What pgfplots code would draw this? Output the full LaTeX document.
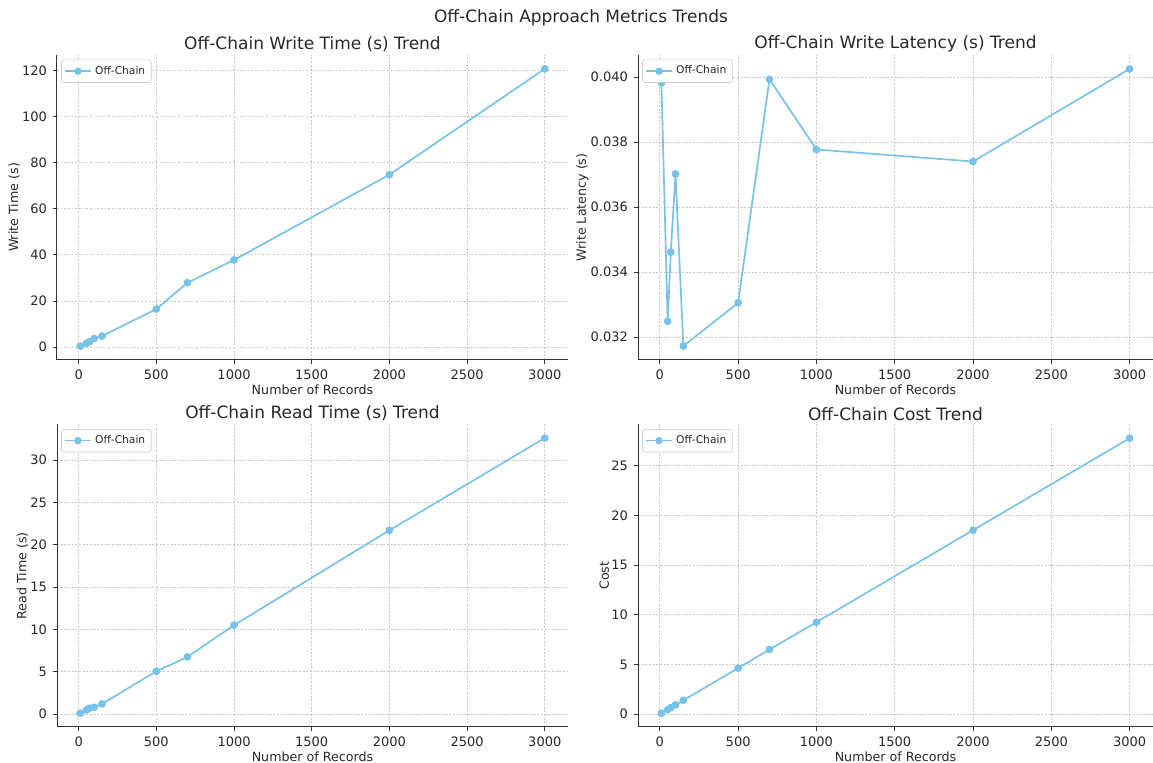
\documentclass[border=0pt]{standalone}
\usepackage{pgfplots}
\pgfplotsset{compat=1.18}
\usepackage{fontspec}
\setmainfont{DejaVu Sans}
\definecolor{lc}{RGB}{118,194,232}
\definecolor{tx}{RGB}{40,40,40}
\pgfplotsset{
  myax/.style={
    scale only axis,
    axis x line*=bottom, axis y line*=left,
    axis line style={black!80, line width=0.6pt},
    tick align=outside,
    major tick length=2.5pt,
    tick style={black!80, line width=0.5pt},
    xmin=-139.5, xmax=3149.5,
    xtick={0,500,1000,1500,2000,2500,3000},
    grid=major,
    grid style={dash pattern=on 1.1pt off 1.1pt, black!22, line width=0.45pt},
    /pgf/number format/assume math mode=true,
    /pgf/number format/1000 sep={},
    tick label style={font=\fontsize{7.8}{8.5}\selectfont, text=tx},
    label style={font=\fontsize{7.6}{8.5}\selectfont, text=tx},
    title style={font=\fontsize{10.2}{11}\selectfont, text=tx, yshift=-7.5pt},
    xlabel={Number of Records},
    xlabel style={yshift=4pt},
    ylabel style={yshift=-5.5pt},
    legend style={at={(0.008,0.985)}, anchor=north west, draw=black!20, rounded corners=1.5pt,
      font=\fontsize{6.4}{7}\selectfont, text=tx, inner sep=1.6pt, row sep=-1pt},
    legend cell align=left,
    legend image code/.code={\draw[lc, line width=1pt] (0cm,0cm) -- (0.55cm,0cm); \fill[lc] (0.275cm,0cm) circle (1.7pt);},
  },
  myplot/.style={color=lc, line width=1pt, mark=*, mark size=1.8pt, mark options={fill=lc, draw=lc}},
}
\begin{document}
\begin{tikzpicture}
\useasboundingbox (0,0) rectangle (691.8pt,457.8pt);
\node[font=\fontsize{10.2}{11}\selectfont, text=tx] at (348.6pt,447pt) {Off-Chain Approach Metrics Trends};
% Top-left
\begin{axis}[myax, at={(34.2pt,241.8pt)}, anchor=south west, width=306.6pt, height=183pt,
  ymin=-5.6, ymax=126.7, ytick={0,20,40,60,80,100,120},
  title={Off-Chain Write Time (s) Trend}, ylabel={Write Time (s)}]
\addplot[myplot] coordinates {(10,0.40) (50,1.62) (70,2.42) (100,3.70) (150,4.76) (500,16.5) (700,27.9) (1000,37.8) (2000,74.8) (3000,120.7)};
\addlegendentry{Off-Chain}
\end{axis}
% Top-right
\begin{axis}[myax, at={(382.8pt,241.8pt)}, anchor=south west, width=309pt, height=183pt,
  ymin=0.03129, ymax=0.04068, ytick={0.032,0.034,0.036,0.038,0.040},
  scaled y ticks=false,
  yticklabel style={/pgf/number format/fixed, /pgf/number format/precision=3, /pgf/number format/fixed zerofill},
  title={Off-Chain Write Latency (s) Trend}, ylabel={Write Latency (s)}]
\addplot[myplot] coordinates {(10,0.03982) (50,0.03248) (70,0.03461) (100,0.03702) (150,0.03172) (500,0.03305) (700,0.03993) (1000,0.03777) (2000,0.03740) (3000,0.04025)};
\addlegendentry{Off-Chain}
\end{axis}
% Bottom-left
\begin{axis}[myax, at={(34.2pt,21.6pt)}, anchor=south west, width=306.6pt, height=181.5pt,
  ymin=-1.525, ymax=34.2, ytick={0,5,10,15,20,25,30},
  title={Off-Chain Read Time (s) Trend}, ylabel={Read Time (s)}]
\addplot[myplot] coordinates {(10,0.10) (50,0.50) (70,0.70) (100,0.80) (150,1.20) (500,5.05) (700,6.75) (1000,10.5) (2000,21.7) (3000,32.6)};
\addlegendentry{Off-Chain}
\end{axis}
% Bottom-right
\begin{axis}[myax, at={(382.8pt,21.6pt)}, anchor=south west, width=309pt, height=181.5pt,
  ymin=-1.29, ymax=29.13, ytick={0,5,10,15,20,25},
  title={Off-Chain Cost Trend}, ylabel={Cost}]
\addplot[myplot] coordinates {(10,0.09) (50,0.46) (70,0.65) (100,0.93) (150,1.39) (500,4.63) (700,6.50) (1000,9.25) (2000,18.5) (3000,27.75)};
\addlegendentry{Off-Chain}
\end{axis}
\end{tikzpicture}
\end{document}
